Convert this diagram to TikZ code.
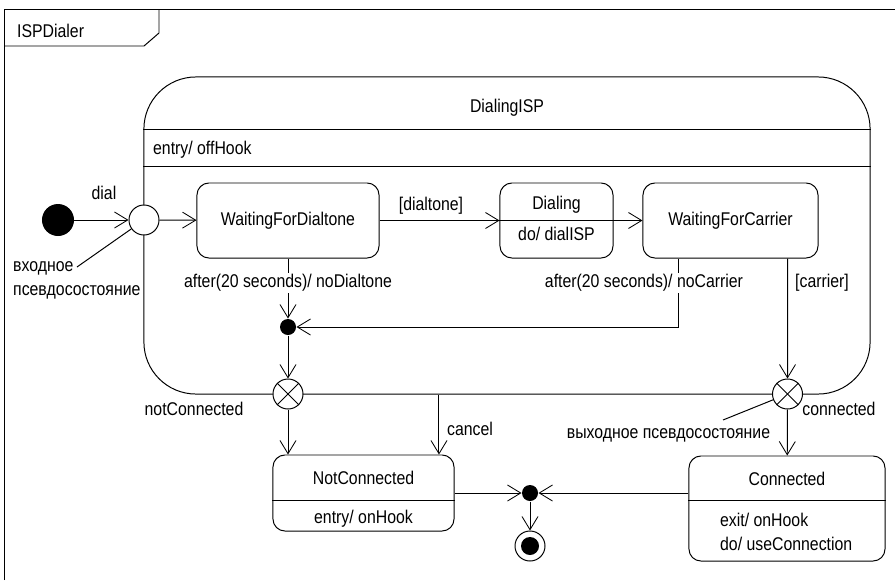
\documentclass[tikz,border=0pt]{standalone}
\usepackage{fontspec}
\setmainfont[FakeStretch=0.86]{Liberation Sans}
\usetikzlibrary{arrows.meta,positioning,calc}

\begin{document}
\begin{tikzpicture}[x=0.025cm, y=-0.025cm, line width=0.7pt, every node/.style={font=\fontsize{13.1}{17}\selectfont,align=center}, stbox/.style={draw,rounded corners=3mm,inner sep=0pt}, pseudo/.style={circle,draw,fill=white,minimum size=7.5mm,inner sep=0pt}, dot/.style={circle,fill=black,minimum size=4mm,inner sep=0pt}, arr/.style={-{Straight Barb[length=3.3mm,width=4mm,line width=0.6pt]}}, lbl/.style={fill=white,inner sep=1pt}]
\useasboundingbox (0,0) rectangle (895,580);
% frame
\draw (4.5,580) -- (4.5,9) -- (895,9);
\draw (4.5,46) -- (144,46) -- (159,33) -- (159,9);
\node[anchor=west] (frametitle) at (12,31) {ISPDialer};
% composite state
\node[stbox,rounded corners=1.3cm,minimum width=18.15cm,minimum height=7.925cm] (DialingISP) at (507,235.5) {};
\draw ($(DialingISP.north west)+(0,53)$) -- ($(DialingISP.north east)+(0,53)$);
\draw ($(DialingISP.north west)+(0,90)$) -- ($(DialingISP.north east)+(0,90)$);
\node (dialingname) at (507,108) {DialingISP};
\node[anchor=west] (dialingentry) at (148,150) {entry/ offHook};
\node[stbox,minimum width=4.55cm,minimum height=1.875cm] (WaitDial) at (288,220.5) {WaitingForDialtone};
\node[stbox,minimum width=2.825cm,minimum height=1.875cm] (Dialing) at (556.5,220.5) {};
\draw (Dialing.west) -- (Dialing.east);
\node (dialingtop) at (556.5,205) {Dialing};
\node (dialingdo) at (556.5,234) {do/ dialISP};
\node[stbox,minimum width=4.375cm,minimum height=1.875cm] (WaitCarrier) at (730.5,220.5) {WaitingForCarrier};
% pseudostates
\node[dot,minimum size=8mm] (init) at (58,220) {};
\node[pseudo] (entry) at (144,220) {};
\node[dot] (choice) at (288,327) {};
\node[pseudo] (exitNo) at (288,394) {};
\node[pseudo] (exitYes) at (787.5,394) {};
\foreach \p in {exitNo,exitYes} {\draw (\p.north west) -- (\p.south east); \draw (\p.north east) -- (\p.south west);}
% outer states
\node[stbox,minimum width=4.525cm,minimum height=1.9cm] (NotConn) at (363.5,493) {};
\draw ($(NotConn.north west)+(0,46)$) -- ($(NotConn.north east)+(0,46)$);
\node (notconnname) at (363.5,478) {NotConnected};
\node (notconnentry) at (363.5,519) {entry/ onHook};
\node[stbox,minimum width=4.9cm,minimum height=2.625cm] (Conn) at (787,508.5) {};
\draw ($(Conn.north west)+(0,45)$) -- ($(Conn.north east)+(0,45)$);
\node (connname) at (787,479) {Connected};
\node[anchor=west,align=left] (connacts) at (715,532) {exit/ onHook\\do/ useConnection};
\node[dot] (join) at (530,493) {};
\node[pseudo] (final) at (530,546) {};
\node[dot,minimum size=4.5mm] (finalin) at (final) {};
% transitions
\draw[arr] (init) -- (entry);
\node (diallbl) at (104,193) {dial};
\draw[arr] (entry) -- (WaitDial);
\draw[arr] (WaitDial) -- (Dialing);
\node (dialtonelbl) at (431,206) {[dialtone]};
\draw[arr] (Dialing) -- (WaitCarrier);
\draw[arr] (WaitDial) -- (choice) node[lbl,pos=0.41] {after(20 seconds)/ noDialtone};
\draw[arr] ([xshift=-1.3125cm]WaitCarrier.south) |- (choice);
\node[lbl] (nocarrierlbl) at (644,283) {after(20 seconds)/ noCarrier};
\draw[arr] ([xshift=1.425cm]WaitCarrier.south) -- (exitYes);
\node[anchor=west] (carrierlbl) at (790,283) {[carrier]};
\draw[arr] (choice) -- (exitNo);
\draw[arr] (exitNo) -- (exitNo |- NotConn.north);
\coordinate (cancelstart) at ([xshift=-1.7cm]DialingISP.south);
\draw[arr] (cancelstart) -- (cancelstart |- NotConn.north);
\node[anchor=west] (cancellbl) at (442,429) {cancel};
\draw[arr] (exitYes) -- (Conn);
\draw[arr] (NotConn) -- (join);
\draw[arr] (Conn.west |- join) -- (join);
\draw[arr] (join) -- (final);
% pseudostate labels
\node (notconnlbl) at (194,409) {notConnected};
\node (connlbl) at (839,409) {connected};
\node[anchor=west,align=left] (inlbl) at (8,280) {входное\\псевдосостояние};
\coordinate (inlead) at (77,267);
\draw (inlead) -- (entry);
\node (outlbl) at (668.5,435) {выходное псевдосостояние};
\coordinate (outlead) at (723,420);
\draw (outlead) -- (exitYes);
\end{tikzpicture}
\end{document}
